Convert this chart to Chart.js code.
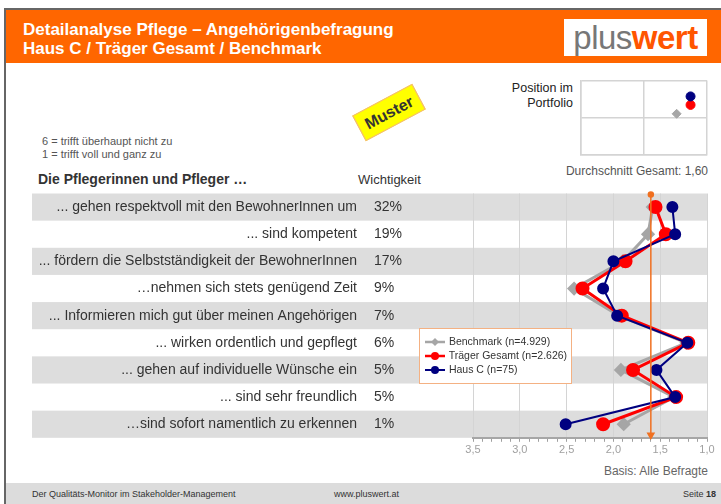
<!DOCTYPE html>
<html><head><meta charset="utf-8">
<script src="https://cdn.jsdelivr.net/npm/chart.js@4.4.0/dist/chart.umd.min.js"></script>
<style>
html,body{margin:0;padding:0;background:#fff;}
body{width:721px;height:504px;position:relative;overflow:hidden;font-family:"Liberation Sans",Arial,sans-serif;}
.abs{position:absolute;}
#frameTop{left:4px;top:8px;width:717px;height:2px;background:#666;}
#frameLeft{left:4px;top:8px;width:2px;height:496px;background:#666;}
#header{left:6px;top:10px;width:715px;height:53px;background:#FF6600;}
.htxt{color:#fff;font-weight:bold;font-size:17px;left:23px;white-space:nowrap;}
#logo{left:564px;top:19px;width:143px;height:37px;background:#fff;font-size:33px;line-height:37px;text-align:center;letter-spacing:-0.5px;}
#footer{left:6px;top:483px;width:715px;height:21px;background:#DCDCDC;}
.ft{font-size:9px;color:#333;top:489px;white-space:nowrap;}
#muster{left:355px;top:98px;width:66px;height:27px;background:#FFFF00;border:1px solid #F4B183;transform:rotate(-28deg);font-weight:bold;font-size:16px;line-height:27px;text-align:center;color:#333;}
.g{color:#555;white-space:nowrap;}
#legend{left:419px;top:328px;width:151px;height:54px;background:#fff;border:1px solid #F4B183;}
.li{position:absolute;left:4px;height:13px;font-size:10.5px;color:#333;white-space:nowrap;}
.li canvas{vertical-align:middle;}
</style></head>
<body>
<div class="abs" id="header"></div>
<div class="abs" id="frameTop"></div>
<div class="abs" id="frameLeft"></div>
<div class="abs htxt" style="top:20px">Detailanalyse Pflege – Angehörigenbefragung</div>
<div class="abs htxt" style="top:39px">Haus C / Träger Gesamt / Benchmark</div>
<div class="abs" id="logo"><span style="color:#777">plus</span><span style="color:#FF5500;font-weight:bold">wert</span></div>

<div class="abs" id="muster">Muster</div>
<div class="abs g" style="left:42px;top:135px;font-size:11px">6 = trifft überhaupt nicht zu</div>
<div class="abs g" style="left:42px;top:148px;font-size:11px">1 = trifft voll und ganz zu</div>
<div class="abs" style="left:38px;top:171px;font-size:14px;font-weight:bold;color:#333;white-space:nowrap">Die Pflegerinnen und Pfleger …</div>
<div class="abs" style="left:358px;top:172px;font-size:13px;color:#333">Wichtigkeit</div>
<div class="abs" style="left:460px;top:81px;width:113px;text-align:right;font-size:12.5px;line-height:15px;color:#222">Position im<br>Portfolio</div>
<div class="abs g" style="left:480px;top:164px;width:228px;text-align:right;font-size:12px">Durchschnitt Gesamt: 1,60</div>
<div class="abs g" style="left:480px;top:464px;width:228px;text-align:right;font-size:12px;color:#666">Basis: Alle Befragte</div>

<div class="abs" id="footer"></div>
<div class="abs ft" style="left:32px">Der Qualitäts-Monitor im Stakeholder-Management</div>
<div class="abs ft" style="left:334px">www.pluswert.at</div>
<div class="abs ft" style="left:660px;width:56px;text-align:right">Seite <b>18</b></div>

<canvas id="main" class="abs" style="left:0;top:185px" width="721" height="280"></canvas>
<canvas id="pf" class="abs" style="left:575px;top:75px" width="140" height="85"></canvas>
<div class="abs" id="legend"></div>

<script>
const categories = [
  "... gehen respektvoll mit den BewohnerInnen um",
  "... sind kompetent",
  "... fördern die Selbstständigkeit der BewohnerInnen",
  "…nehmen sich stets genügend Zeit",
  "... Informieren mich gut über meinen Angehörigen",
  "... wirken ordentlich und gepflegt",
  "... gehen auf individuelle Wünsche ein",
  "... sind sehr freundlich",
  "…sind sofort namentlich zu erkennen"
];
const importance = ["32%","19%","17%","9%","7%","6%","5%","5%","1%"];
const benchmark = [1.58, 1.63, 1.90, 2.42, 1.94, 1.22, 1.92, 1.35, 1.89];
const traeger   = [1.55, 1.44, 1.87, 2.33, 1.91, 1.20, 1.79, 1.33, 2.11];
const hausC     = [1.37, 1.34, 2.00, 2.11, 1.96, 1.21, 1.54, 1.34, 2.51];
const average = 1.60;
const seriesNames = ["Benchmark (n=4.929)", "Träger Gesamt  (n=2.626)", "Haus C (n=75)"];
const xTickLabels = ["3,5","3,0","2,5","2,0","1,5","1,0"];
const portfolioX = [1.52, 1.74, 1.74];
const portfolioY = [1.10, 1.34, 1.57];

const colors = ["#A6A6A6", "#FF0000", "#000080"];
const styles = ["rectRot", "circle", "circle"];

function pts(arr){ return arr.map((v,i)=>({x:v,y:i})); }

const rowPlugin = {
  id:'rows',
  beforeDraw(chart){
    const {ctx, chartArea, scales:{y}} = chart;
    ctx.save();
    for(let i=0;i<categories.length;i++){
      const t = y.getPixelForValue(i-0.5), b = y.getPixelForValue(i+0.5);
      if(i%2===0){
        ctx.fillStyle = '#DDDDDD';
        ctx.fillRect(32, t, chartArea.right-32, b-t);
      }
      const c = (t+b)/2;
      ctx.fillStyle = '#333';
      ctx.font = '14px "Liberation Sans", Arial, sans-serif';
      ctx.textBaseline = 'middle';
      ctx.textAlign = 'right';
      ctx.fillText(categories[i], 357, c);
      ctx.textAlign = 'left';
      ctx.fillText(importance[i], 374, c);
    }
    ctx.restore();
  }
};

const isMajor = v => Math.abs(v*2 - Math.round(v*2)) < 1e-6;

new Chart(document.getElementById('main'), {
  type:'line',
  data:{datasets:[
    {label:seriesNames[0], data:pts(benchmark), borderColor:colors[0], backgroundColor:colors[0], borderWidth:3, pointStyle:styles[0], pointRadius:5, order:3, clip:false},
    {label:seriesNames[1], data:pts(traeger), borderColor:colors[1], backgroundColor:colors[1], borderWidth:3, pointStyle:styles[1], pointRadius:5.5, order:2, clip:false},
    {label:seriesNames[2], data:pts(hausC), borderColor:colors[2], backgroundColor:colors[2], borderWidth:2, pointStyle:styles[2], pointRadius:5, order:1, clip:false},
    {label:'avg', data:[{x:average,y:-0.46},{x:average,y:8.4}], borderColor:'#F07020', backgroundColor:'#F07020', borderWidth:1.5,
     pointStyle:['circle','triangle'], rotation:[0,180], pointRadius:[2.5,3.5], order:0, clip:false}
  ]},
  options:{
    responsive:false, animation:false, devicePixelRatio:1,
    layout:{padding:{left:473, right:14, top:7, bottom:6}},
    plugins:{legend:{display:false}, tooltip:{enabled:false}},
    elements:{line:{tension:0}},
    scales:{
      x:{type:'linear', reverse:true, min:1.0, max:3.5,
        ticks:{stepSize:0.1, autoSkip:false, maxRotation:0, padding:2, color:'#A0A0A0', font:{size:11, family:'"Liberation Sans", Arial'},
          callback:(v)=>{ if(!isMajor(v)) return ''; const idx = Math.round((3.5-v)*2); return xTickLabels[idx]; }},
        grid:{color:(c)=> (c.tick && isMajor(c.tick.value)) ? '#D4D4D4' : 'rgba(0,0,0,0)', lineWidth:1, tickColor:'#A0A0A0', tickLength:4, drawOnChartArea:true},
        border:{color:'#A6A6A6', width:2}
      },
      y:{type:'linear', reverse:true, min:-0.5, max:8.5, display:false}
    }
  },
  plugins:[rowPlugin]
});

new Chart(document.getElementById('pf'), {
  type:'scatter',
  data:{datasets:[0,1,2].map(i=>({data:[{x:portfolioX[i],y:portfolioY[i]}], backgroundColor:colors[i], borderColor:colors[i], pointStyle:styles[i], pointRadius:4.5, order:3-i}))},
  options:{
    responsive:false, animation:false, devicePixelRatio:1,
    layout:{padding:{left:5,right:8,top:5,bottom:5}},
    plugins:{legend:{display:false}, tooltip:{enabled:false}},
    scales:{
      x:{min:0,max:2, ticks:{display:false, stepSize:1}, grid:{color:'#D4D4D4', lineWidth:1.5, drawTicks:false}, border:{color:'#D4D4D4', width:1.5}},
      y:{min:0,max:2, ticks:{display:false, stepSize:1}, grid:{color:'#D4D4D4', lineWidth:1.5, drawTicks:false}, border:{color:'#D4D4D4', width:1.5}}
    }
  }
});

// HTML legend built from series arrays
const lg = document.getElementById('legend');
seriesNames.forEach((n,i)=>{
  const d = document.createElement('div');
  d.className='li'; d.style.top = (6+i*14)+'px';
  const c = document.createElement('canvas'); c.width=22; c.height=12;
  const x = c.getContext('2d');
  x.strokeStyle=colors[i]; x.fillStyle=colors[i]; x.lineWidth= i===2?2:2.5;
  x.beginPath(); x.moveTo(1,6); x.lineTo(21,6); x.stroke();
  x.beginPath();
  if(styles[i]==='rectRot'){ x.moveTo(11,2); x.lineTo(15,6); x.lineTo(11,10); x.lineTo(7,6); x.closePath(); }
  else { x.arc(11,6,4,0,Math.PI*2); }
  x.fill();
  d.appendChild(c);
  d.appendChild(document.createTextNode(' '+n));
  lg.appendChild(d);
});
</script>
</body></html>
